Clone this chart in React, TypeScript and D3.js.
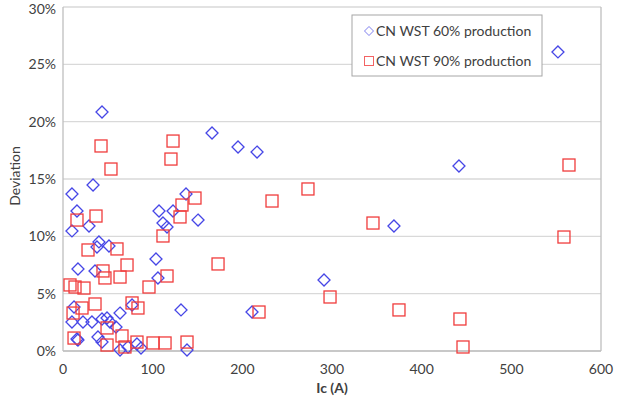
import React from "react";
import * as d3 from "d3";

const seriesNames = ["CN WST 60% production", "CN WST 90% production"];

// Series 1: CN WST 60% production (Ic in A, deviation in %)
const ic60 = [552.0, 441.6, 369.1, 166.2, 195.2, 216.4, 291.1, 210.8, 43.5, 33.5, 10.0, 15.6, 10.0, 29.0, 40.1, 37.9, 51.3, 137.2, 107.1, 122.7, 150.6, 111.5, 116.0, 103.7, 16.7, 35.7, 105.9, 12.3, 77.0, 131.6, 10.0, 22.3, 32.3, 43.5, 49.1, 52.4, 59.1, 63.6, 15.6, 16.7, 39.0, 43.5, 63.6, 72.5, 82.5, 87.0, 138.3];
const dev60 = [26.08, 16.13, 10.9, 19.01, 17.79, 17.35, 6.19, 3.4, 20.84, 14.48, 13.69, 12.21, 10.47, 10.9, 9.51, 9.07, 9.16, 13.69, 12.21, 12.21, 11.42, 11.16, 10.81, 8.02, 7.15, 6.98, 6.37, 3.84, 4.01, 3.58, 2.53, 2.53, 2.53, 2.79, 2.88, 2.53, 2.09, 3.31, 1.05, 0.96, 1.22, 0.78, 0.09, 0.35, 0.61, 0.26, 0.09];

// Series 2: CN WST 90% production
const ic90 = [345.7, 558.7, 374.7, 442.7, 446.1, 564.3, 273.2, 233.1, 172.9, 297.8, 218.6, 42.4, 122.7, 120.4, 53.5, 15.6, 36.8, 147.2, 132.7, 130.5, 111.5, 27.9, 60.2, 71.4, 44.6, 46.8, 63.6, 116.0, 95.9, 7.8, 13.4, 23.4, 21.2, 35.7, 11.2, 77.0, 83.6, 49.1, 65.8, 12.3, 49.1, 69.1, 82.5, 100.4, 113.8, 138.3];
const dev90 = [11.16, 9.94, 3.58, 2.79, 0.35, 16.22, 14.13, 13.08, 7.59, 4.71, 3.4, 17.88, 18.31, 16.74, 15.87, 11.42, 11.77, 13.34, 12.73, 11.69, 10.03, 8.81, 8.9, 7.5, 6.98, 6.37, 6.45, 6.54, 5.58, 5.76, 5.58, 5.49, 3.75, 4.1, 3.31, 4.19, 3.75, 2.01, 1.31, 1.13, 0.52, 0.35, 0.78, 0.7, 0.7, 0.78];

const xTicks = [0, 100, 200, 300, 400, 500, 600];
const yTicks = [0, 5, 10, 15, 20, 25, 30];

const W = 621;
const H = 398;
const L = 63, R = 601, T = 7, B = 351;
const BLUE = "#4646e6";
const RED = "#f03c3c";
const FONT = "Lato, 'Open Sans', sans-serif";
const TXT = "#404040";

export default function App() {
  const x = d3.scaleLinear().domain([0, 600]).range([L, R]);
  const y = d3.scaleLinear().domain([0, 30]).range([B, T]);
  const diamond = (cx: number, cy: number, r: number) =>
    `M${cx},${cy - r}L${cx + r},${cy}L${cx},${cy + r}L${cx - r},${cy}Z`;

  return (
    <svg width={W} height={H} style={{ position: "absolute", left: 0, top: 0, background: "#fff" }}>
      <rect x={0} y={0} width={W} height={H} fill="#fff" />
      {yTicks.map((t) => (
        <line key={"g" + t} x1={L} x2={R} y1={y(t)} y2={y(t)} stroke="#d9d9d9" strokeWidth={1.3} />
      ))}
      <line x1={L} x2={L} y1={T} y2={B} stroke="#bfbfbf" strokeWidth={1.3} />
      <line x1={R} x2={R} y1={T} y2={B} stroke="#bfbfbf" strokeWidth={1.3} />
      <line x1={L} x2={R} y1={B} y2={B} stroke="#bfbfbf" strokeWidth={1.3} />
      {yTicks.map((t) => (
        <text key={"yl" + t} x={L - 7} y={Math.max(y(t) + 5, 14)} textAnchor="end" fontFamily={FONT} fontSize={14} fill={TXT}>
          {t + "%"}
        </text>
      ))}
      {xTicks.map((t) => (
        <text key={"xl" + t} x={x(t)} y={B + 23} textAnchor="middle" fontFamily={FONT} fontSize={14} fill={TXT}>
          {t}
        </text>
      ))}
      <text x={(L + R) / 2} y={393} textAnchor="middle" fontFamily={FONT} fontSize={14} fontWeight="bold" fill={TXT}>
        Ic (A)
      </text>
      <text transform={`translate(20,${(T + B) / 2 - 3}) rotate(-90)`} textAnchor="middle" fontFamily={FONT} fontSize={14} fill={TXT}>
        Deviation
      </text>
      {ic60.map((v, i) => (
        <path key={"d" + i} d={diamond(x(v), y(dev60[i]), 6)} fill="none" stroke={BLUE} strokeWidth={1.3} />
      ))}
      {ic90.map((v, i) => (
        <rect key={"s" + i} x={x(v) - 6} y={y(dev90[i]) - 6} width={12} height={12} fill="none" stroke={RED} strokeWidth={1.3} />
      ))}
      <rect x={352} y={15} width={190} height={61} fill="#fff" stroke="#a6a6a6" strokeWidth={1} />
      <path d={diamond(369, 31, 4.5)} fill="none" stroke={BLUE} strokeWidth={1} opacity={0.7} />
      <text x={376} y={36} fontFamily={FONT} fontSize={14} fill={TXT}>{seriesNames[0]}</text>
      <rect x={364.5} y={56.5} width={9} height={9} fill="none" stroke={RED} strokeWidth={1} opacity={0.8} />
      <text x={376} y={66} fontFamily={FONT} fontSize={14} fill={TXT}>{seriesNames[1]}</text>
    </svg>
  );
}
